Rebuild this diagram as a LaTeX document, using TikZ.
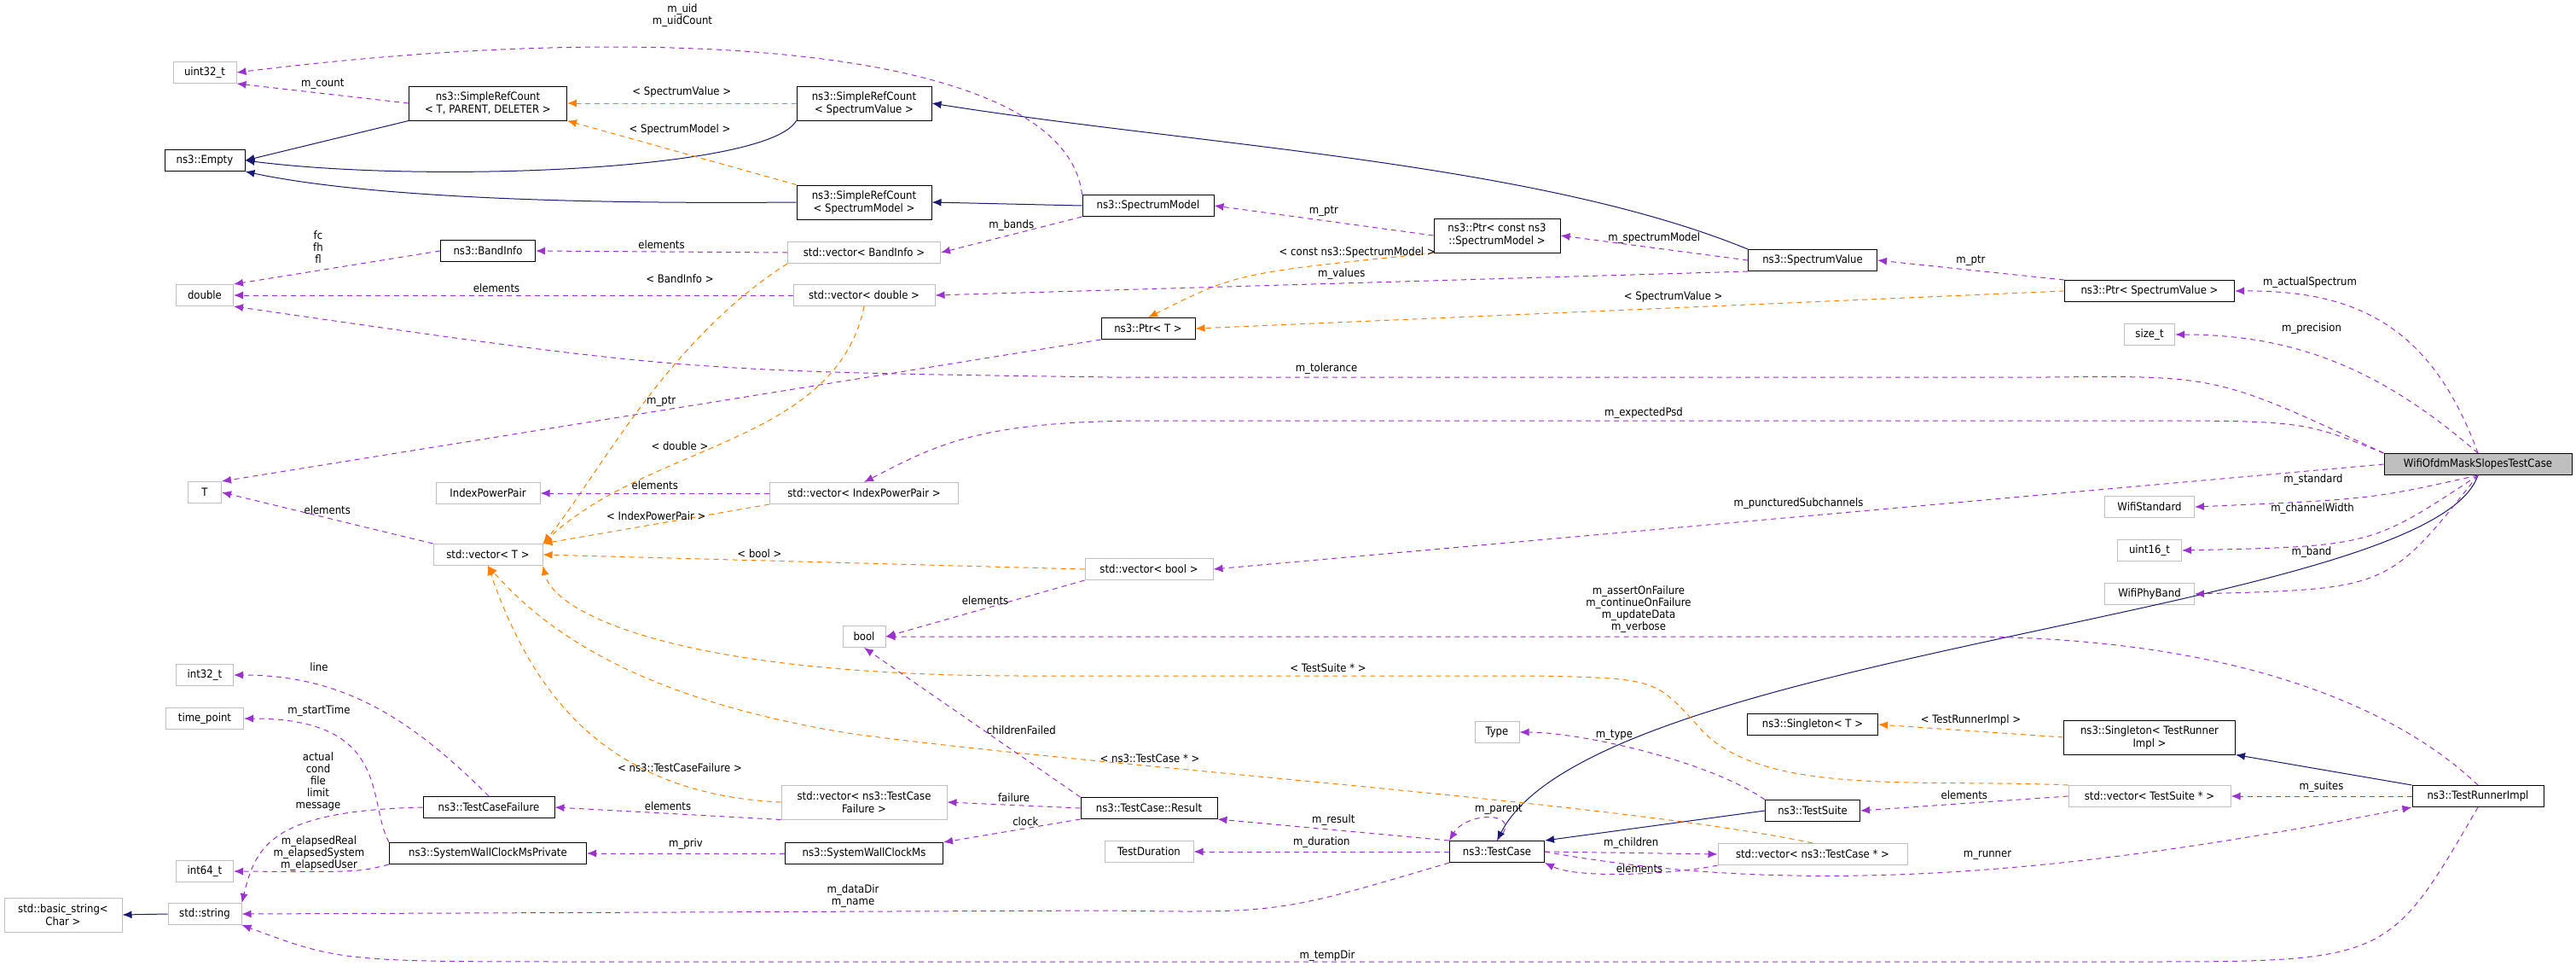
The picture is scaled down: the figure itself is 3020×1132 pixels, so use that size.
\documentclass[tikz,border=0pt]{standalone}
\usepackage{fontspec}
\setmainfont{DejaVu Sans Condensed}
\usetikzlibrary{arrows.meta}
\definecolor{memberpurple}{HTML}{9A32CD}
\definecolor{inheritnavy}{HTML}{191970}

\begin{document}
\begin{tikzpicture}[%
x=1pt, y=-1pt,
>={Latex[length=11pt,width=9pt]},
box/.style={draw=black, line width=1pt, fill=white, inner sep=0pt, minimum height=25pt, font=\fontsize{13}{15}\selectfont, align=center},
ext/.style={box, draw=black!25},
main/.style={box, fill=black!25},
member/.style={->, dashed, line width=1pt, dash pattern=on 6pt off 5pt, draw=memberpurple, color=memberpurple},
tmpl/.style={->, dashed, line width=1pt, dash pattern=on 6pt off 5pt, draw=orange, color=orange},
inherit/.style={->, line width=1pt, draw=inheritnavy, color=inheritnavy},
lbl/.style={font=\fontsize{13}{14}\selectfont, align=center, inner sep=0pt, text=black},
]
\useasboundingbox (0,0) rectangle (3020,1132);

% classes
\node[ext, minimum width=74pt] (uint) at (240,85) {uint32\_t};
\node[box, minimum width=185pt, minimum height=40pt] (srct) at (572,121) {ns3::SimpleRefCount\\< T, PARENT, DELETER >};
\node[box, minimum width=94pt] (empty) at (240,188) {ns3::Empty};
\node[box, minimum width=158pt, minimum height=40pt] (srcv) at (1013,121) {ns3::SimpleRefCount\\< SpectrumValue >};
\node[box, minimum width=158pt, minimum height=40pt] (srcm) at (1013,237) {ns3::SimpleRefCount\\< SpectrumModel >};
\node[box, minimum width=154pt] (smodel) at (1346,241) {ns3::SpectrumModel};
\node[box, minimum width=148pt, minimum height=40pt] (ptrsm) at (1755,276) {ns3::Ptr< const ns3\\::SpectrumModel >};
\node[box, minimum width=151pt] (svalue) at (2125,305) {ns3::SpectrumValue};
\node[box, minimum width=199pt] (ptrsv) at (2520,341) {ns3::Ptr< SpectrumValue >};
\node[ext, minimum width=59pt] (sizet) at (2520,392) {size\_t};
\node[box, minimum width=111pt] (band) at (572,294) {ns3::BandInfo};
\node[ext, minimum width=179pt] (vband) at (1013,296) {std::vector< BandInfo >};
\node[ext, minimum width=67pt] (dbl) at (240,346) {double};
\node[ext, minimum width=166pt] (vdbl) at (1013,346) {std::vector< double >};
\node[box, minimum width=110pt] (ptrt) at (1346,385) {ns3::Ptr< T >};
\node[ext, minimum width=39pt] (tt) at (240,577) {T};
\node[ext, minimum width=122pt] (ipp) at (572,578) {IndexPowerPair};
\node[ext, minimum width=221pt] (vipp) at (1013,578) {std::vector< IndexPowerPair >};
\node[ext, minimum width=128pt] (vt) at (572,650) {std::vector< T >};
\node[ext, minimum width=150pt] (vbool) at (1347,667) {std::vector< bool >};
\node[ext, minimum width=50pt] (bool) at (1013,746) {bool};
\node[main, minimum width=220pt] (wifi) at (2905,544) {WifiOfdmMaskSlopesTestCase};
\node[ext, minimum width=105pt] (wstd) at (2520,594) {WifiStandard};
\node[ext, minimum width=75pt] (u16) at (2520,645) {uint16\_t};
\node[ext, minimum width=105pt] (wband) at (2520,696) {WifiPhyBand};
\node[ext, minimum width=67pt] (i32) at (240,791) {int32\_t};
\node[ext, minimum width=91pt] (tpoint) at (240,842) {time\_point};
\node[ext, minimum width=52pt] (type) at (1755,858) {Type};
\node[box, minimum width=153pt] (single) at (2125,849) {ns3::Singleton< T >};
\node[box, minimum width=201pt, minimum height=40pt] (singletri) at (2520,864) {ns3::Singleton< TestRunner\\Impl >};
\node[ext, minimum width=190pt] (vsuite) at (2520,933) {std::vector< TestSuite * >};
\node[box, minimum width=154pt] (tri) at (2905,933) {ns3::TestRunnerImpl};
\node[box, minimum width=111pt] (suite) at (2125,950) {ns3::TestSuite};
\node[box, minimum width=154pt] (tcf) at (573,946) {ns3::TestCaseFailure};
\node[ext, minimum width=194pt, minimum height=40pt] (vtcf) at (1013,940) {std::vector< ns3::TestCase\\Failure >};
\node[box, minimum width=160pt] (result) at (1347,947) {ns3::TestCase::Result};
\node[box, minimum width=231pt] (swcmp) at (572,1000) {ns3::SystemWallClockMsPrivate};
\node[box, minimum width=185pt] (swcm) at (1013,1000) {ns3::SystemWallClockMs};
\node[ext, minimum width=104pt] (tdur) at (1347,998) {TestDuration};
\node[box, minimum width=111pt] (tcase) at (1755,998) {ns3::TestCase};
\node[ext, minimum width=222pt] (vcase) at (2125,1001) {std::vector< ns3::TestCase * >};
\node[ext, minimum width=67pt] (i64) at (240,1021) {int64\_t};
\node[ext, minimum width=86pt] (str) at (240,1071) {std::string};
\node[ext, minimum width=138pt, minimum height=40pt] (bstr) at (74,1072) {std::basic\_string<\\Char >};

% inheritance
\draw[inherit] (srct.south west) -- (empty.east);
\draw[inherit] (srcv.south west) .. controls (900,200) and (500,215) .. (empty.east);
\draw[inherit] (srcm.west) .. controls (600,240) and (400,225) .. (empty.south east);
\draw[inherit] (svalue.north west) .. controls (1800,190) and (1400,170) .. (srcv.east);
\draw[inherit] (smodel.west) -- (srcm.east);
\draw[inherit] (wifi.south) .. controls (2850,720) and (1870,760) .. (tcase.north);
\draw[inherit] (suite.west) -- (tcase.north east);
\draw[inherit] (tri.north west) -- (singletri.south east);
\draw[inherit] (str.west) -- (bstr.east);

% templates
\draw[tmpl] (srcv.west) -- node[lbl, above=6pt]{< SpectrumValue >} (srct.east);
\draw[tmpl] (srcm.north west) -- (srct.south east);
\node[lbl] (lsmodel) at (797,152) {< SpectrumModel >};
\draw[tmpl] (ptrsm.south west) .. controls (1450,320) .. node[lbl, pos=0.15, above=3pt]{< const ns3::SpectrumModel >} (ptrt.north);
\draw[tmpl] (ptrsv.west) -- node[lbl, pos=0.45, above=6pt]{< SpectrumValue >} (ptrt.east);
\draw[tmpl] (vband.south west) .. controls (780,400) and (700,560) .. (vt.north east);
\node[lbl] (lbandinfo) at (797,327) {< BandInfo >};
\draw[tmpl] (vdbl.south) .. controls (980,520) and (760,520) .. (vt.north east);
\node[lbl] (ldouble) at (797,523) {< double >};
\draw[tmpl] (vipp.south west) -- node[lbl, above=4pt]{< IndexPowerPair >} (vt.north east);
\draw[tmpl] (vbool.west) -- node[lbl, pos=0.6, above=3pt]{< bool >} (vt.east);
\draw[tmpl] (vsuite.north west) .. controls (2250,912) and (2060,935) .. (1990,850) .. controls (1940,795) .. (1800,792) -- (1200,792) .. controls (800,792) and (650,720) .. (vt.south east);
\node[lbl] (ltsuite) at (1557,783) {< TestSuite * >};
\draw[tmpl] (vcase.north) .. controls (1900,940) and (1300,900) .. (1000,860) .. controls (750,820) and (640,740) .. (vt.south);
\node[lbl] (ltcase) at (1348,889) {< ns3::TestCase * >};
\draw[tmpl] (vtcf.west) .. controls (700,930) and (620,800) .. (vt.south);
\node[lbl] (ltcf) at (797,900) {< ns3::TestCaseFailure >};
\draw[tmpl] (singletri.west) -- node[lbl, above=6pt]{< TestRunnerImpl >} (single.east);

% members
\draw[member] (smodel.north west) .. controls (1250,60) and (800,20) .. (uint.east);
\node[lbl] (luid) at (800,18) {m\_uid\\m\_uidCount};
\draw[member] (srct.west) -- node[lbl, above=4pt]{m\_count} (uint.south east);
\draw[member] (smodel.south west) -- node[lbl, above=4pt]{m\_bands} (vband.east);
\draw[member] (vband.west) -- node[lbl, above=3pt]{elements} (band.east);
\draw[member] (band.west) -- (dbl.north east);
\node[lbl] (lfreq) at (373,290) {fc\\fh\\fl};
\draw[member] (vdbl.west) -- node[lbl, pos=0.53, above=3pt]{elements} (dbl.east);
\draw[member] (wifi.north west) .. controls (2600,440) .. (2400,442) -- (1300,442) .. controls (800,435) .. (dbl.south east);
\node[lbl] (ltol) at (1555,432) {m\_tolerance};
\draw[member] (ptrsm.west) -- node[lbl, above=4pt]{m\_ptr} (smodel.east);
\draw[member] (svalue.west) -- node[lbl, above=4pt]{m\_spectrumModel} (ptrsm.east);
\draw[member] (svalue.south west) -- node[lbl, pos=0.5, above=4pt]{m\_values} (vdbl.east);
\draw[member] (ptrsv.north west) -- node[lbl, above=4pt]{m\_ptr} (svalue.east);
\draw[member] (wifi.north) .. controls (2850,380) and (2760,340) .. (ptrsv.east);
\node[lbl] (lactual) at (2708,331) {m\_actualSpectrum};
\draw[member] (wifi.north) .. controls (2800,440) and (2700,392) .. (sizet.east);
\node[lbl] (lprec) at (2710,385) {m\_precision};
\draw[member] (ptrt.south west) -- node[lbl, pos=0.5, above=4pt]{m\_ptr} (tt.north east);
\draw[member] (wifi.north west) .. controls (2700,493) .. (2500,493) -- (1350,493) .. controls (1150,493) and (1100,520) .. (vipp.north);
\node[lbl] (lpsd) at (1927,484) {m\_expectedPsd};
\draw[member] (vipp.west) -- node[lbl, above=4pt]{elements} (ipp.east);
\draw[member] (vt.north west) -- node[lbl, above=4pt]{elements} (tt.east);
\draw[member] (wifi.west) -- node[lbl, pos=0.5, above=8pt]{m\_puncturedSubchannels} (vbool.east);
\draw[member] (vbool.south west) -- node[lbl, above=4pt]{elements} (bool.east);
\draw[member] (wifi.south) .. controls (2780,585) .. (wstd.east);
\node[lbl] (lstd) at (2712,562) {m\_standard};
\draw[member] (wifi.south) .. controls (2780,640) .. (u16.east);
\node[lbl] (lcw) at (2711,596) {m\_channelWidth};
\draw[member] (wifi.south) .. controls (2800,690) .. (wband.east);
\node[lbl] (lband) at (2710,647) {m\_band};
\draw[member] (tri.north) .. controls (2800,820) and (2600,746) .. (2300,746) -- (bool.east);
\node[lbl] (lflags) at (1921,714) {m\_assertOnFailure\\m\_continueOnFailure\\m\_updateData\\m\_verbose};
\draw[member] (result.north west) -- node[lbl, pos=0.45, right=4pt]{childrenFailed} (bool.south);
\draw[member] (result.west) -- node[lbl, above=3pt]{failure} (vtcf.east);
\draw[member] (result.south west) -- node[lbl, pos=0.4, above=3pt]{clock} (swcm.north east);
\draw[member] (vtcf.south west) -- node[lbl, above=3pt]{elements} (tcf.east);
\draw[member] (swcm.west) -- node[lbl, above=4pt]{m\_priv} (swcmp.east);
\draw[member] (tcf.north) .. controls (480,840) and (400,791) .. (i32.east);
\node[lbl] (lline) at (374,782) {line};
\draw[member] (swcmp.north west) .. controls (430,940) and (460,842) .. (tpoint.east);
\node[lbl] (lstart) at (374,833) {m\_startTime};
\draw[member] (swcmp.south west) .. controls (420,1022) .. (i64.east);
\node[lbl] (lelapsed) at (374,1000) {m\_elapsedReal\\m\_elapsedSystem\\m\_elapsedUser};
\draw[member] (tcf.west) .. controls (320,950) and (300,990) .. (str.north east);
\node[lbl] (lfail) at (373,916) {actual\\cond\\file\\limit\\message};
\draw[member] (tcase.south west) .. controls (1500,1070) .. (1300,1067) -- (str.east);
\node[lbl] (ldir) at (1000,1050) {m\_dataDir\\m\_name};
\draw[member] (tri.south) .. controls (2800,1127) .. (2500,1127) -- (700,1127) .. controls (400,1127) .. (str.south east);
\node[lbl] (ltemp) at (1556,1120) {m\_tempDir};
\draw[member] (tcase.north west) -- node[lbl, above=4pt]{m\_result} (result.south east);
\draw[member] (tcase.west) -- node[lbl, above=4pt]{m\_duration} (tdur.east);
\draw[member] (tcase.north) .. controls (1790,950) and (1720,950) .. (tcase.north west) ;
\node[lbl] (lparent) at (1757,948) {m\_parent};
\draw[member] (tcase.east) -- node[lbl, above=4pt]{m\_children} (vcase.west);
\draw[member] (vcase.south west) .. controls (1960,1025) and (1850,1030) .. (tcase.south east);
\node[lbl] (lelem) at (1922,1018) {elements};
\draw[member] (suite.north west) .. controls (2000,890) and (1850,858) .. node[lbl, pos=0.6, above=4pt]{m\_type} (type.east);
\draw[member] (vsuite.west) -- node[lbl, above=4pt]{elements} (suite.east);
\draw[member] (tri.west) -- node[lbl, above=4pt]{m\_suites} (vsuite.east);
\draw[member] (tcase.east) .. controls (2150,1060) and (2500,1010) .. (tri.south west);
\node[lbl] (lrunner) at (2330,1002) {m\_runner};

\end{tikzpicture}
\end{document}
